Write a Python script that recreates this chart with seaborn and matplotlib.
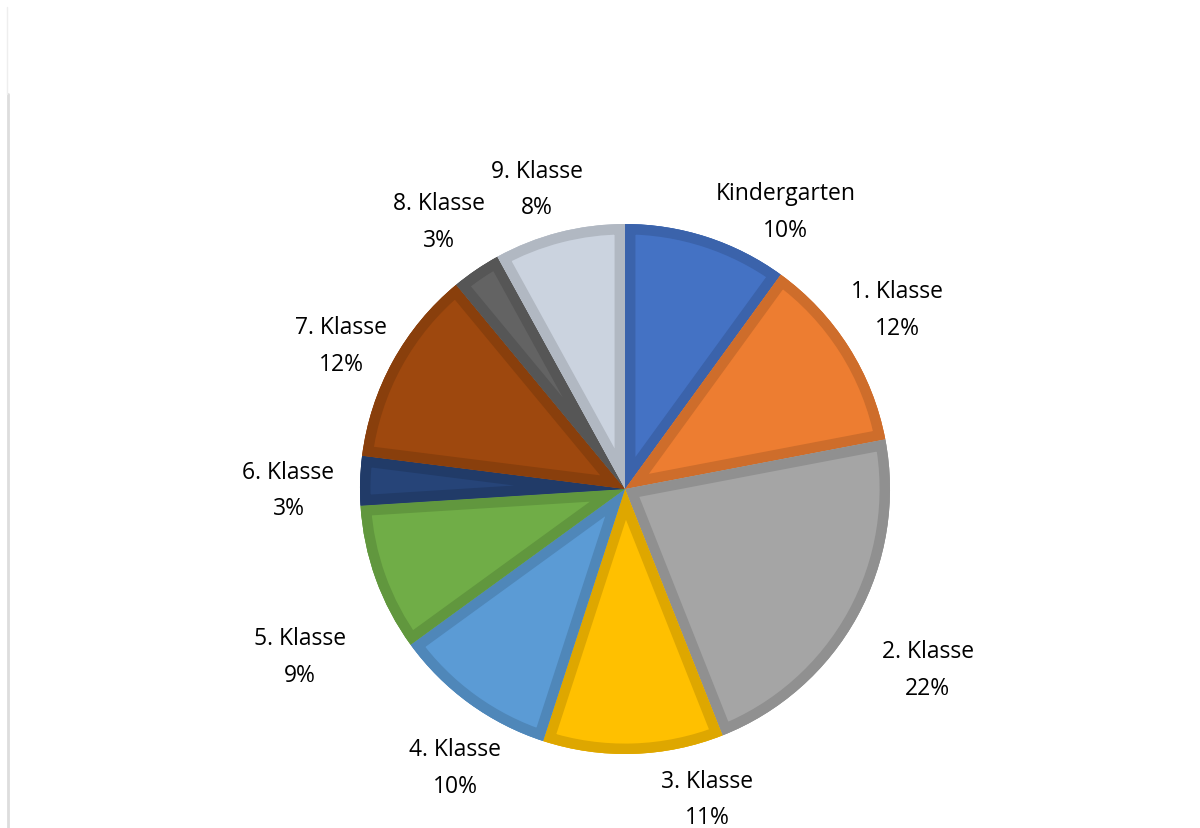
import matplotlib.pyplot as plt
import matplotlib.colors as mcolors
import numpy as np
import seaborn as sns
from matplotlib.lines import Line2D

klassen = ["Kindergarten", "1. Klasse", "2. Klasse", "3. Klasse", "4. Klasse",
           "5. Klasse", "6. Klasse", "7. Klasse", "8. Klasse", "9. Klasse"]
anteile = [10, 12, 22, 11, 10, 9, 3, 12, 3, 8]
farben = ["#4472C4", "#ED7D31", "#A5A5A5", "#FFC000", "#5B9BD5",
          "#70AD47", "#264478", "#9E480E", "#636363", "#CBD3DF"]

# label placement (Excel "best fit"): angle shift in degrees, distance in radii
label_shift = [-12, 1, -2, 13, 4.6, 7.5, 2, 2, 0.7, 2]
label_dist = [1.21, 1.23, 1.33, 1.21, 1.23, 1.38, 1.27, 1.20, 1.23, 1.18]

sns.set_theme(style="white")
plt.rcParams["font.family"] = ["Open Sans", "DejaVu Sans"]


def dunkler(c, f=0.87):
    r, g, b = mcolors.to_rgb(c)
    return (r * f, g * f, b * f)


fig = plt.figure(figsize=(12, 8.29), dpi=100)
ax = fig.add_axes([0, 0, 1, 1])

# dark base layer, so seams between clipped wedges show the border colour
ax.pie(anteile, colors=[dunkler(c) for c in farben], startangle=90,
       counterclock=False, wedgeprops=dict(linewidth=0))
wedges, _ = ax.pie(anteile, colors=farben, startangle=90, counterclock=False)

for w, c in zip(wedges, farben):
    w.set_edgecolor(dunkler(c))
    w.set_linewidth(15)
    w.set_clip_path(w)
    w.set_clip_on(True)

for w, k, a, s, d in zip(wedges, klassen, anteile, label_shift, label_dist):
    mitte = np.deg2rad((w.theta1 + w.theta2) / 2 + s)
    ax.text(d * np.cos(mitte), d * np.sin(mitte), f"{k}\n{a}%",
            ha="center", va="center", fontsize=16.5, linespacing=1.7, color="black")

# pixel scale: radius 265 px, center at (625, 490) from top
r = 265
ax.set_xlim(-625 / r, (1200 - 625) / r)
ax.set_ylim(-(829 - 490) / r, 490 / r)
ax.set_aspect("auto")
ax.axis("off")

fig.add_artist(Line2D([8 / 1200, 8 / 1200], [0, 1 - 95 / 829],
                      transform=fig.transFigure, color="#dddddd", lw=2))
fig.add_artist(Line2D([7 / 1200, 7 / 1200], [1 - 95 / 829, 1 - 8 / 829],
                      transform=fig.transFigure, color="#eeeeee", lw=1))

fig.savefig("out.png", dpi=100)
